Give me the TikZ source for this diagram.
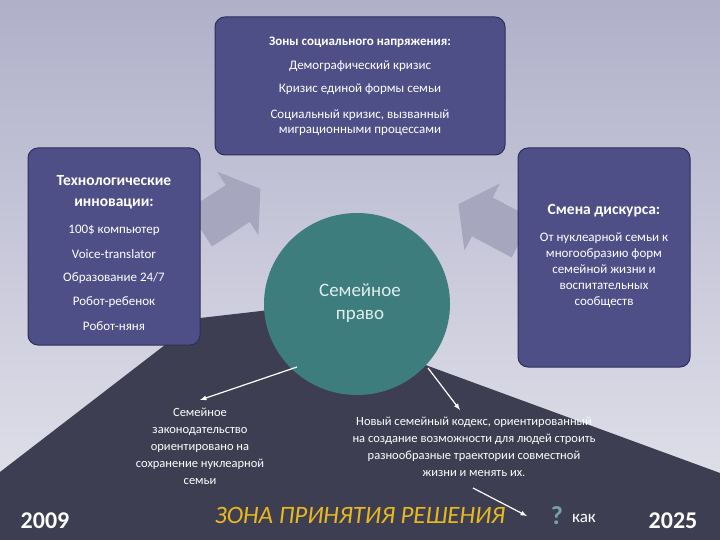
\documentclass[tikz,border=0pt]{standalone}
\usepackage{fontspec}
\setmainfont{Carlito}
\usetikzlibrary{shapes.geometric}
\definecolor{boxc}{HTML}{4F4F88}
\definecolor{boxb}{HTML}{2E2E5A}
\definecolor{dark}{HTML}{3E3E52}
\definecolor{teal}{HTML}{3D7D7E}
\definecolor{garr}{HTML}{A6A6BE}
\definecolor{yel}{HTML}{E8B820}
\tikzset{
 box/.style={draw=boxb,line width=1pt,fill=boxc,rounded corners=10pt,text=white},
 bigarr/.style={fill=garr,draw=none},
 warr/.style={draw=white,line width=1.2pt,-latex},
 txt/.style={text=white,align=center,font=\fontsize{13}{18}\selectfont}
}
\newcommand\grarrow{(0,-22)--(45,-22)--(45,-38)--(72,0)--(45,38)--(45,22)--(0,22)--cycle}
\begin{document}
\begin{tikzpicture}[x=1pt,y=-1pt]
\shade[top color=black!0!boxc!45!white,bottom color=white!85!boxc] (0,0) rectangle (720,540);
\useasboundingbox (0,0) rectangle (720,540);
\fill[dark] (0,472)--(200,318)--(357,300)--(330,330)--(720,473)--(720,540)--(0,540)--cycle;
% grey arrows
\fill[bigarr,shift={(357,150)},rotate=90] \grarrow;
\fill[bigarr,shift={(200,228)},rotate=33] \grarrow;
\fill[bigarr,shift={(522,238)},rotate=152] \grarrow;
% boxes
\draw[box] (215,17) rectangle (505,155);
\draw[box] (28,148) rectangle (200,345);
\draw[box] (518,148) rectangle (690,367);
\node[txt,font=\bfseries\fontsize{13}{16}\selectfont] (t1) at (360,42) {Зоны социального напряжения:};
\node[txt] (t2) at (360,66) {Демографический кризис};
\node[txt] (t3) at (360,89) {Кризис единой формы семьи};
\node[txt,font=\fontsize{13}{15}\selectfont] (t4) at (360,123) {Социальный кризис, вызванный\\миграционными процессами};
\node[txt,font=\bfseries\fontsize{15.5}{21}\selectfont] (l1) at (114,192) {Технологические\\инновации:};
\node[txt] (l2) at (114,230) {100\$ компьютер};
\node[txt] (l3) at (114,254) {Voice-translator};
\node[txt] (l4) at (114,278) {Образование 24/7};
\node[txt] (l5) at (114,302) {Робот-ребенок};
\node[txt] (l6) at (114,326) {Робот-няня};
\node[txt,font=\bfseries\fontsize{15.5}{18}\selectfont] (r1) at (604,211) {Смена дискурса:};
\node[txt,font=\fontsize{13}{16}\selectfont] (r2) at (604,270) {От нуклеарной семьи к\\многообразию форм\\семейной жизни и\\воспитательных\\сообществ};
\node[ellipse,fill=teal,minimum width=186pt,minimum height=182pt,inner sep=0pt] (c) at (357,304) {};
\node[text=white!85!teal,align=center,font=\fontsize{19}{23}\selectfont] (ct) at (360,303) {Семейное\\право};
\node[txt,font=\fontsize{12.5}{17}\selectfont] (b1) at (200,446) {Семейное\\законодательство\\ориентировано на\\сохранение нуклеарной\\семьи};
\node[txt,font=\fontsize{12.5}{17}\selectfont] (b2) at (474,447) {Новый семейный кодекс, ориентированный\\на создание возможности для людей строить\\разнообразные траектории совместной\\жизни и менять их.};
\coordinate (a1s) at (297,367); \coordinate (a1e) at (200,400);
\coordinate (a2s) at (428,368); \coordinate (a2e) at (460,410);
\coordinate (a3s) at (473,488); \coordinate (a3e) at (527,516);
\draw[warr] (a1s)--(a1e);
\draw[warr] (a2s)--(a2e);
\draw[warr] (a3s)--(a3e);
\node[text=yel,font=\itshape\fontsize{25}{25}\selectfont] (z) at (360,515) {ЗОНА ПРИНЯТИЯ РЕШЕНИЯ};
\node[text=teal!70!white,font=\bfseries\fontsize{26}{26}\selectfont] (q) at (557,516) {?};
\node[text=white,font=\fontsize{17}{17}\selectfont] (kak) at (584,518) {как};
\node[text=white,font=\bfseries\fontsize{24}{24}\selectfont] (y1) at (45,521) {2009};
\node[text=white,font=\bfseries\fontsize{24}{24}\selectfont] (y2) at (673,521) {2025};
\end{tikzpicture}
\end{document}
